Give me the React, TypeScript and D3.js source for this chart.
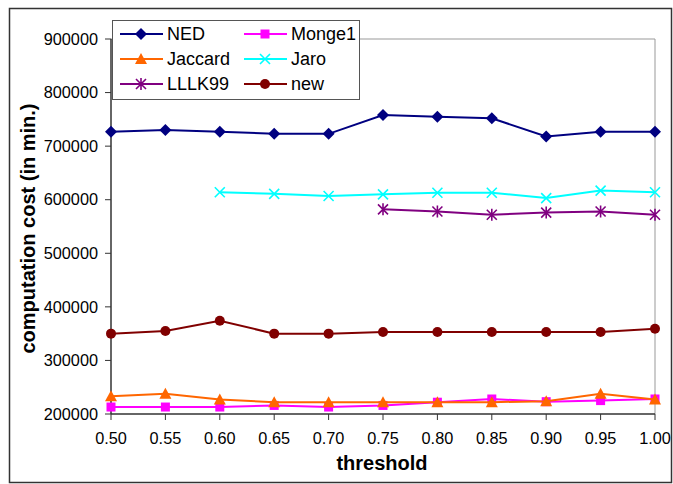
import React from "react";
import * as d3 from "d3";

const thresholds = [0.5, 0.55, 0.6, 0.65, 0.7, 0.75, 0.8, 0.85, 0.9, 0.95, 1.0];
const yTicks = [200000, 300000, 400000, 500000, 600000, 700000, 800000, 900000];

const nedValues = [727000, 730000, 727000, 723000, 723000, 758000, 755000, 752000, 718000, 727000, 727000];
const monge1Values = [213000, 213000, 213000, 216000, 213000, 216000, 222000, 228000, 223000, 225000, 228000];
const jaccardValues = [233000, 238000, 227000, 222000, 222000, 222000, 222000, 222000, 224000, 238000, 227000];
const jaroValues = [null, null, 614000, 611000, 607000, 610000, 613000, 613000, 603000, 617000, 614000];
const lllk99Values = [null, null, null, null, null, 582000, 578000, 572000, 576000, 578000, 572000];
const newValues = [350000, 355000, 374000, 350000, 350000, 353000, 353000, 353000, 353000, 353000, 359000];

type Sym = "diamond" | "square" | "triangle" | "x" | "star" | "circle";
const series: { name: string; values: (number | null)[]; color: string; sym: Sym }[] = [
  { name: "NED", values: nedValues, color: "#000080", sym: "diamond" },
  { name: "Monge1", values: monge1Values, color: "#FF00FF", sym: "square" },
  { name: "Jaccard", values: jaccardValues, color: "#FF6600", sym: "triangle" },
  { name: "Jaro", values: jaroValues, color: "#00FFFF", sym: "x" },
  { name: "LLLK99", values: lllk99Values, color: "#800080", sym: "star" },
  { name: "new", values: newValues, color: "#800000", sym: "circle" },
];

const W = 673, H = 484;
const L = 111, R = 655, T = 39, B = 414;
const FONT = "'Liberation Sans', Arial, sans-serif";

function Marker({ sym, x, y, color }: { sym: Sym; x: number; y: number; color: string }) {
  switch (sym) {
    case "diamond":
      return <path d={`M${x},${y - 6}L${x + 6},${y}L${x},${y + 6}L${x - 6},${y}Z`} fill={color} />;
    case "square":
      return <rect x={x - 4.5} y={y - 4.5} width={9} height={9} fill={color} />;
    case "triangle":
      return <path d={`M${x},${y - 6}L${x + 6},${y + 5}L${x - 6},${y + 5}Z`} fill={color} />;
    case "x":
      return (
        <path d={`M${x - 5},${y - 5}L${x + 5},${y + 5}M${x - 5},${y + 5}L${x + 5},${y - 5}`} stroke={color} strokeWidth={1.6} />
      );
    case "star":
      return (
        <path
          d={`M${x - 5},${y - 5}L${x + 5},${y + 5}M${x - 5},${y + 5}L${x + 5},${y - 5}M${x},${y - 6}L${x},${y + 6}`}
          stroke={color}
          strokeWidth={1.6}
        />
      );
    case "circle":
      return <circle cx={x} cy={y} r={5} fill={color} />;
  }
}

export default function App() {
  const x = d3.scaleLinear().domain([0.5, 1.0]).range([L, R]);
  const y = d3.scaleLinear().domain([200000, 900000]).range([B, T]);
  const line = d3
    .line<number | null>()
    .defined((d) => d !== null)
    .x((_, i) => x(thresholds[i]))
    .y((d) => y(d as number));

  const legendCols = [120, 244];
  const legendRows = [34, 59, 84];

  return (
    <svg width={W} height={H} style={{ position: "absolute", left: 0, top: 0 }} fontFamily={FONT}>
      <rect x={0} y={0} width={W} height={H} fill="#fff" />
      <rect x={9.5} y={8.5} width={662} height={474} fill="none" stroke="#333" strokeWidth={1.5} />
      <path d={`M${L},${T}H${R}V${B}`} fill="none" stroke="#999" strokeWidth={1} />
      <line x1={L} y1={T} x2={L} y2={B} stroke="#333" strokeWidth={1.5} />
      <line x1={L} y1={B} x2={R} y2={B} stroke="#333" strokeWidth={1.5} />
      {yTicks.map((t) => (
        <g key={t}>
          <line x1={L - 6} x2={L} y1={y(t)} y2={y(t)} stroke="#333" />
          <text x={L - 13} y={y(t)} dy="0.35em" textAnchor="end" fontSize={16.3} fill="#000">
            {t}
          </text>
        </g>
      ))}
      {thresholds.map((t) => (
        <g key={t}>
          <line x1={x(t)} x2={x(t)} y1={B} y2={B + 6} stroke="#333" />
          <text x={x(t)} y={B + 30} textAnchor="middle" fontSize={16.3} fill="#000">
            {t.toFixed(2)}
          </text>
        </g>
      ))}
      <text x={(L + R) / 2 - 1} y={470} textAnchor="middle" fontSize={20} fontWeight="bold">
        threshold
      </text>
      <text
        transform={`translate(35,${(T + B) / 2 + 2}) rotate(-90)`}
        textAnchor="middle"
        fontSize={20}
        fontWeight="bold"
      >
        computation cost (in min.)
      </text>
      {series.map((s) => (
        <g key={s.name}>
          <path d={line(s.values) || ""} fill="none" stroke={s.color} strokeWidth={2} />
          {s.values.map((v, i) =>
            v === null ? null : <Marker key={i} sym={s.sym} x={x(thresholds[i])} y={y(v)} color={s.color} />
          )}
        </g>
      ))}
      <rect x={112.5} y={20.5} width={247} height={79} fill="#fff" stroke="#555" strokeWidth={1} />
      {series.map((s, i) => {
        const cx = legendCols[i % 2];
        const cy = legendRows[Math.floor(i / 2)];
        return (
          <g key={s.name}>
            <line x1={cx} x2={cx + 43} y1={cy} y2={cy} stroke={s.color} strokeWidth={2} />
            <Marker sym={s.sym} x={cx + 21} y={cy} color={s.color} />
            <text x={cx + 47} y={cy} dy="0.36em" fontSize={18} fill="#000">
              {s.name}
            </text>
          </g>
        );
      })}
    </svg>
  );
}
